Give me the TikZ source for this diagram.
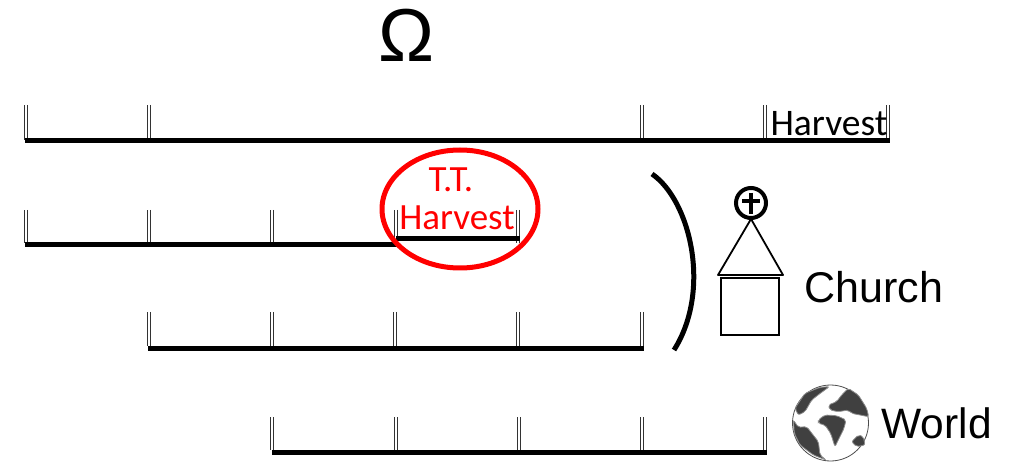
\documentclass[tikz,border=0pt]{standalone}
\usepackage{fontspec}
\setmainfont{Carlito}
\newfontfamily\arialfont{Liberation Sans}
\usepackage{tikz}
\begin{document}
\begin{tikzpicture}[x=1pt,y=-1pt]
\par
\tikzstyle{yeartick}=[draw=black!80,double=white,double distance=1.8pt,line width=1.4pt]
\tikzstyle{yearline}=[line width=5pt]
\tikzstyle{globeland}=[fill=black!75,draw=black!45,line width=0.8pt,rounded corners=2pt]
\useasboundingbox (0,0) rectangle (1020,462);
\node (omega) at (407,35) {\arialfont\fontsize{75}{75}\selectfont \char"03A9};
\par
\foreach \x in {26,149,642,765,888} \draw[yeartick] (\x,105)--(\x,140);
\draw[yearline] (25,141)--(890,141);
\node (harvest) at (829,124) {\fontsize{37.5}{37.5}\selectfont Harvest};
\par
\foreach \x in {26,149,272,396,518} \draw[yeartick] (\x,210)--(\x,243);
\draw[yearline] (25,245)--(398,245);
\draw[yearline] (396,238.5)--(520,238.5);
\par
\foreach \x in {149,272,395,518,642} \draw[yeartick] (\x,312)--(\x,346);
\draw[yearline] (148,348)--(644,348);
\par
\foreach \x in {272,396,519,642,765} \draw[yeartick] (\x,417)--(\x,450);
\draw[yearline] (272,452)--(767,452);
\par
\draw[red,line width=5pt] (460,209) ellipse [x radius=78,y radius=59];
\node[red] (tt) at (451,180) {\fontsize{37}{37}\selectfont T.T.};
\node[red] (ttharvest) at (457,218) {\fontsize{37}{37}\selectfont Harvest};
\par
\draw[line width=5pt] (652,174) .. controls (690,200) and (712,290) .. (674,350);
\par
\draw[line width=4pt] (751,203) circle (15);
\draw[line width=3.5pt] (751,193)--(751,214);
\draw[line width=3.5pt] (742,201)--(760,201);
\draw[line width=1.8pt,line join=round] (751,219)--(718,275)--(783,275)--cycle;
\draw[line width=1.5pt] (721,278) rectangle (779,335);
\node[anchor=west] (church) at (801,287) {\arialfont\fontsize{43}{43}\selectfont Church};
\par
\draw[line width=0.8pt,black!70] (830.5,423) circle (38);
\begin{scope}[shift={(770,370)},x=0.3333pt,y=-0.3333pt]
\draw[globeland] (75,115)--(105,70)--(150,52)--(178,50)--(148,72)--(125,90)--(105,125)--(85,135)--cycle;
\draw[globeland] (70,150)--(85,172)--(110,170)--(145,215)--(150,255)--(168,270)--(130,255)--(90,225)--(73,190)--cycle;
\draw[globeland] (175,105)--(200,95)--(215,75)--(235,55)--(265,75)--(290,115)--(296,140)--(270,135)--(245,130)--(235,120)--(205,125)--(180,120)--cycle;
\draw[globeland] (145,150)--(165,135)--(200,137)--(228,150)--(222,175)--(195,230)--(182,190)--(165,165)--(145,160)--cycle;
\draw[globeland] (245,215)--(265,195)--(280,200)--(285,225)--(260,230)--cycle;
\end{scope}
\node[anchor=west] (world) at (878,423) {\arialfont\fontsize{42.5}{42.5}\selectfont World};
\par
\end{tikzpicture}
\end{document}
